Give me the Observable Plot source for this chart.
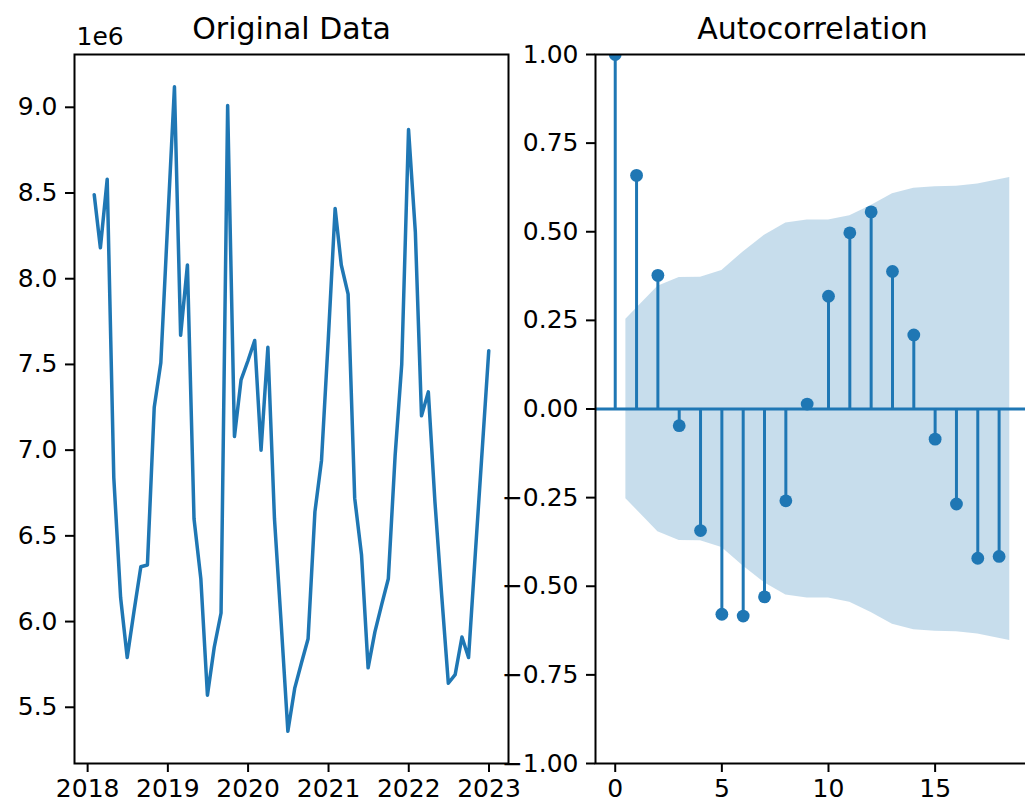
<!DOCTYPE html>
<html>
<head>
<meta charset="utf-8">
<script src="https://cdn.jsdelivr.net/npm/d3@7"></script>
<script src="https://cdn.jsdelivr.net/npm/@observablehq/plot@0.6"></script>
<style>
  html, body { margin: 0; padding: 0; background: #fff; overflow: hidden; }
  #fig { position: relative; width: 1025px; height: 811px; overflow: hidden; background: #fff; }
  #fig > svg { position: absolute; top: 0; }
</style>
</head>
<body>
<div id="fig"></div>
<script>
// Monthly series, January 2018 – December 2022 (month-end stamps)
const seriesStart = { year: 2018, month: 0 };
const monthlyValues = [
  8490000, 8180000, 8580000, 6840000, 6140000, 5790000, 6060000, 6320000, 6330000, 7250000, 7510000, 8320000,
  9120000, 7670000, 8080000, 6600000, 6250000, 5570000, 5850000, 6050000, 9010000, 7080000, 7410000, 7520000,
  7640000, 7000000, 7600000, 6600000, 5980000, 5360000, 5610000, 5760000, 5900000, 6640000, 6940000, 7650000,
  8410000, 8080000, 7910000, 6720000, 6390000, 5730000, 5940000, 6100000, 6250000, 6970000, 7500000, 8870000,
  8270000, 7200000, 7340000, 6700000, 6150000, 5640000, 5690000, 5910000, 5790000, 6400000, 6980000, 7580000
];
const yearTicks = [2018, 2019, 2020, 2021, 2022, 2023];
const valueTicks = [5500000, 6000000, 6500000, 7000000, 7500000, 8000000, 8500000, 9000000];

// Sample autocorrelation by lag
const acfLags = [0, 1, 2, 3, 4, 5, 6, 7, 8, 9, 10, 11, 12, 13, 14, 15, 16, 17, 18];
const acfValues = [1.0, 0.659, 0.377, -0.047, -0.343, -0.579, -0.584, -0.530, -0.259, 0.014,
                   0.318, 0.497, 0.556, 0.388, 0.209, -0.085, -0.268, -0.421, -0.416];
// 95% confidence band (half-width) around zero
const bandLags = [0.5, 2, 3, 4, 5, 6, 7, 8, 9, 10, 11, 12, 13, 14, 15, 16, 17, 18.5];
const bandHalfWidth = [0.253, 0.346, 0.371, 0.372, 0.391, 0.443, 0.490, 0.525, 0.533, 0.533,
                       0.545, 0.574, 0.607, 0.623, 0.627, 0.628, 0.635, 0.653];
const lagTicks = [0, 5, 10, 15];
const acfTicks = [-1, -0.75, -0.5, -0.25, 0, 0.25, 0.5, 0.75, 1];

const blue = "#1f77b4";
const font = "'DejaVu Sans', sans-serif";
const minus = s => s.replace("-", "\u2212");

const series = monthlyValues.map((v, i) => ({
  date: new Date(Date.UTC(seriesStart.year, seriesStart.month + i + 1, 0)),
  value: v
}));
const acf = acfLags.map((lag, i) => ({ lag, value: acfValues[i] }));
const band = bandLags.map((lag, i) => ({ lag, lo: -bandHalfWidth[i], hi: bandHalfWidth[i] }));

// matplotlib-style 5% data margins
function padded(extent, frac = 0.05) {
  const [a, b] = extent.map(Number);
  const p = (b - a) * frac;
  return [a - p, b + p];
}
const dateDomain = padded(d3.extent(series, d => d.date)).map(t => new Date(t));
const valueDomain = padded(d3.extent(series, d => d.value));

const fig = document.getElementById("fig");

const left = Plot.plot({
  width: 520,
  height: 811,
  marginLeft: 74,
  marginRight: 12,
  marginTop: 54,
  marginBottom: 48,
  style: { fontFamily: font, fontSize: "25px", color: "black", background: "transparent", overflow: "visible" },
  x: { type: "utc", domain: dateDomain },
  y: { domain: valueDomain },
  marks: [
    Plot.line(series, { x: "date", y: "value", stroke: blue, strokeWidth: 3.5 }),
    Plot.frame({ stroke: "black", strokeWidth: 2 }),
    Plot.axisX({
      ticks: yearTicks.map(y => new Date(Date.UTC(y, 0, 1))),
      tickFormat: d3.utcFormat("%Y"),
      tickSize: 9, tickPadding: 7, strokeWidth: 2, label: null, fontSize: 25
    }),
    Plot.axisY({
      ticks: valueTicks,
      tickFormat: d => (d / 1e6).toFixed(1),
      tickSize: 9, tickPadding: 8, strokeWidth: 2, label: null, fontSize: 25
    }),
    Plot.text(["Original Data"], { frameAnchor: "top", dy: -16, lineAnchor: "bottom", fontSize: 30, fill: "black" }),
    Plot.text(["1e6"], { frameAnchor: "top-left", dx: 2, dy: -10, lineAnchor: "bottom", textAnchor: "start", fontSize: 25, fill: "black" })
  ]
});
left.style.left = "0px";
fig.appendChild(left);

const right = Plot.plot({
  width: 565,
  height: 811,
  marginLeft: 125,
  marginRight: 6,
  marginTop: 54,
  marginBottom: 48,
  style: { fontFamily: font, fontSize: "25px", color: "black", background: "transparent", overflow: "visible" },
  x: { domain: padded([0, 18.5]) },
  y: { domain: [-1, 1] },
  marks: [
    Plot.areaY(band, { x: "lag", y1: "lo", y2: "hi", fill: blue, fillOpacity: 0.25 }),
    Plot.ruleY([0], { stroke: blue, strokeWidth: 3 }),
    Plot.ruleX(acf, { x: "lag", y1: 0, y2: "value", stroke: blue, strokeWidth: 3 }),
    Plot.dot(acf, { x: "lag", y: "value", r: 6.4, fill: blue, stroke: "none", clip: true }),
    Plot.frame({ stroke: "black", strokeWidth: 2 }),
    Plot.axisX({
      ticks: lagTicks, tickFormat: d => String(d),
      tickSize: 9, tickPadding: 7, strokeWidth: 2, label: null, fontSize: 25
    }),
    Plot.axisY({
      ticks: acfTicks, tickFormat: d => minus(d.toFixed(2)),
      tickSize: 9, tickPadding: 8, strokeWidth: 2, label: null, fontSize: 25
    }),
    Plot.text(["Autocorrelation"], { frameAnchor: "top", dy: -16, lineAnchor: "bottom", fontSize: 30, fill: "black" })
  ]
});
right.style.left = "470px";
fig.appendChild(right);
</script>
</body>
</html>
